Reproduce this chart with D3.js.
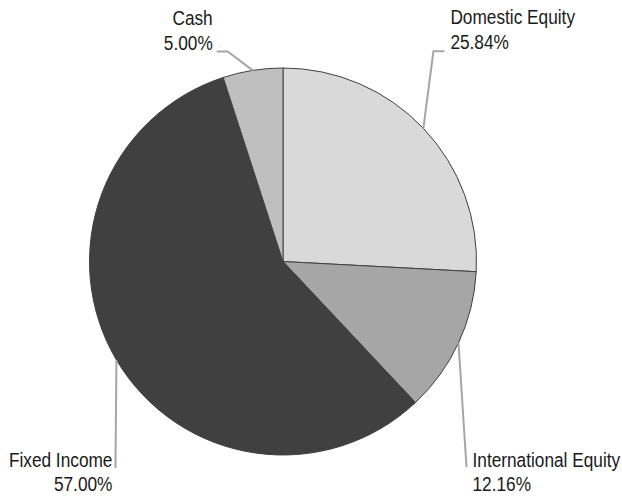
<!DOCTYPE html>
<html><head><meta charset="utf-8">
<script src="https://cdn.jsdelivr.net/npm/d3@7"></script>
<style>body{margin:0;background:#fff}text{font-family:"Liberation Sans",Arial,sans-serif;font-size:19.5px;fill:#1a1a1a}</style>
</head><body><svg id="c" width="622" height="498"></svg>
<script>
const categories = ["Domestic Equity","International Equity","Fixed Income","Cash"];
const values = [25.84, 12.16, 57.00, 5.00];
const colors = ["#d9d9d9","#a6a6a6","#404040","#bfbfbf"];

const svg = d3.select("#c");
const cx = 283, cy = 261.5, R = 193.5;
const g = svg.append("g").attr("transform", `translate(${cx},${cy})`);
const pie = d3.pie().sort(null).value(d => d.v);
const data = pie(categories.map((c,i)=>({c, v: values[i], col: colors[i]})));
const arc = d3.arc().innerRadius(0).outerRadius(R);
g.selectAll("path.s").data(data).join("path").attr("class","s")
  .attr("d", arc).attr("fill", d=>d.data.col).attr("stroke","#404040").attr("stroke-width",1);

// label layout: elbow point and text anchor relative to arc midpoint
const layout = [
  {elbow:[10,-77], end:[21,-77], anchor:"start", tx:27, ty:-104},
  {elbow:[8,124], end:[8,124], anchor:"start", tx:14, ty:124},
  {elbow:[-1,108], end:[-1,108], anchor:"end", tx:-4, ty:107},
  {elbow:[-25,-19], end:[-36,-19], anchor:"end", tx:-40, ty:-45}
];
const lineH = 24.5, sx = 0.885;
data.forEach((d,i)=>{
  const a = (d.startAngle + d.endAngle)/2;
  const px = R*Math.sin(a), py = -R*Math.cos(a);
  const L = layout[i];
  const pts = [[px,py],[px+L.elbow[0],py+L.elbow[1]],[px+L.end[0],py+L.end[1]]];
  g.append("polyline").attr("points", pts.map(p=>p.join(",")).join(" "))
    .attr("fill","none").attr("stroke","#a6a6a6").attr("stroke-width",2);
  const t = g.append("text").attr("text-anchor", L.anchor)
    .attr("transform", `translate(${px+L.tx},${py+L.ty}) scale(${sx},1)`);
  t.append("tspan").attr("x", 0).text(d.data.c);
  t.append("tspan").attr("x", 0).attr("dy", lineH).text(d.data.v.toFixed(2)+"%");
});
</script></body></html>
